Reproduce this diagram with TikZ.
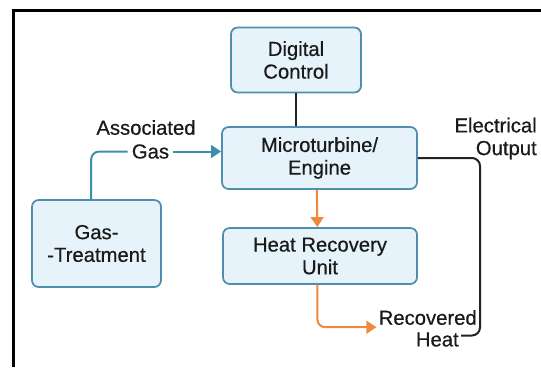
\documentclass[tikz,border=0pt]{standalone}
\usepackage{fontspec}
\setmainfont[FakeBold=0.5]{Liberation Sans}
\usetikzlibrary{arrows.meta,calc}
\definecolor{boxfill}{HTML}{E7F3FA}
\definecolor{boxline}{HTML}{4E8EAF}
\definecolor{gasline}{HTML}{3C8FA9}
\definecolor{heatline}{HTML}{F0883E}
\definecolor{txt}{HTML}{1A1A1A}
\definecolor{darkline}{HTML}{222222}
\begin{document}
\begin{tikzpicture}[x=0.75pt,y=-0.75pt,
  font=\fontsize{15.2}{17}\selectfont,
  blockbox/.style={draw=boxline, fill=boxfill, line width=1.3pt, rounded corners=5pt,
    align=center, text=txt, inner sep=0pt},
  lbl/.style={text=txt, inner sep=1.5pt},
  gasflow/.style={draw=gasline, line width=1.5pt},
  heatflow/.style={draw=heatline, line width=1.5pt},
  elecflow/.style={draw=darkline, line width=1.5pt},
  tri/.style={-{Triangle[length=7.5pt,width=9.5pt]}}
]
\useasboundingbox (0,0) rectangle (541,367);
\fill[white] (0,0) rectangle (541,367);
% frame
\draw[black, line width=2.3pt] (13.5,367) -- (13.5,10.5) -- (541,10.5);

% blocks
\node[blockbox, minimum width=97.5pt, minimum height=48.75pt] (dc) at (296,60) {Digital\\Control};
\node[blockbox, minimum width=146.25pt, minimum height=46.5pt] (mt) at (319.5,158) {Microturbine/\\Engine};
\node[blockbox, minimum width=145.5pt, minimum height=42pt] (hr) at (320,256) {Heat Recovery\\Unit};
\node[blockbox, minimum width=96.75pt, minimum height=65.25pt] (gt) at (96.5,243.5) {Gas-\\-Treatment};

% labels
\node[lbl] (assoc) at (146,127.5) {Associated};
\node[lbl, inner sep=3pt] (gaslbl) at (150.5,151.5) {Gas};
\node[lbl, align=right, anchor=east] (eo) at (539,138.5) {Electrical\\Output};
\node[lbl, anchor=east] (rec) at (479,317.5) {Recovered};
\node[lbl, anchor=east] (heat) at (461,339.5) {Heat};
\coordinate (bus) at (480,240);

% connectors
\draw[elecflow] (dc.south) -- (dc.south |- mt.north);
\draw[gasflow, rounded corners=6pt] ([xshift=-4pt]gt.north) |- (gaslbl.west);
\draw[gasflow, tri] (gaslbl.east) -- (gaslbl.east -| mt.west);
\draw[heatflow, tri] ([xshift=-2pt]mt.south) -- ([xshift=-2pt]hr.north);
\draw[heatflow, tri, rounded corners=6pt] ([xshift=-2pt]hr.south) |- (rec.south west);
\draw[elecflow, rounded corners=6pt] (mt.east) -| (bus) |- ([yshift=3pt]heat.east);
\end{tikzpicture}
\end{document}
